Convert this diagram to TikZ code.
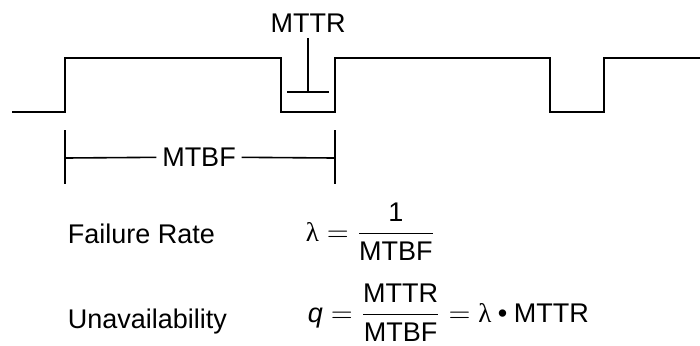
\documentclass[tikz,border=0pt]{standalone}
\usepackage{amsmath}
\usepackage{fontspec}
\setmainfont{Liberation Sans}
\newfontfamily\grk{Liberation Serif}
\usetikzlibrary{positioning}

\newcommand{\lam}{\text{\grk λ}}

\begin{document}
\begin{tikzpicture}[x=0.5pt, y=-0.5pt, line width=0.8pt,
  lbl/.style={font=\fontsize{13.5}{16}\selectfont, inner sep=2.5pt},
  eqn/.style={font=\fontsize{13.5}{16}\selectfont, anchor=base west, inner sep=0pt}]
  \useasboundingbox (0,0) rectangle (700,345);
  % up/down signal
  \draw (12,112) -| (65,58) -| (281,112) -| (335,58) -| (550,112) -| (604,58) -- (700,58);
  % MTTR marker
  \coordinate (tl) at (287,92);
  \coordinate (tr) at (329,92);
  \coordinate (tm) at (308,92);
  \node[lbl, anchor=south] (mttr) at (308,38) {MTTR};
  \draw (tl) -- (tr);
  \draw (mttr.south) -- (tm);
  % MTBF span
  \coordinate (lt) at (65,130);
  \coordinate (lb) at (65,184);
  \coordinate (rt) at (335,130);
  \coordinate (rb) at (335,184);
  \coordinate (ml) at (65,158);
  \coordinate (mr) at (335,158);
  \node[lbl] (mtbf) at (199,157) {MTBF};
  \draw (lt) -- (lb);
  \draw (rt) -- (rb);
  \draw (ml) -- (mtbf);
  \draw (mtbf) -- (mr);
  % formulas
  \node[eqn] (rate) at (67,243) {Failure Rate};
  \node[eqn] (unav) at (67,328) {Unavailability};
  \node[eqn] (rateq) at (305,241) {$\lam = \dfrac{\text{1}}{\text{MTBF}}$};
  \node[eqn] (unaveq) at (307,322) {$\text{\itshape q} = \dfrac{\text{MTTR}}{\text{MTBF}} = \lam \mathbin{\text{\textbullet}} \text{MTTR}$};
\end{tikzpicture}
\end{document}
